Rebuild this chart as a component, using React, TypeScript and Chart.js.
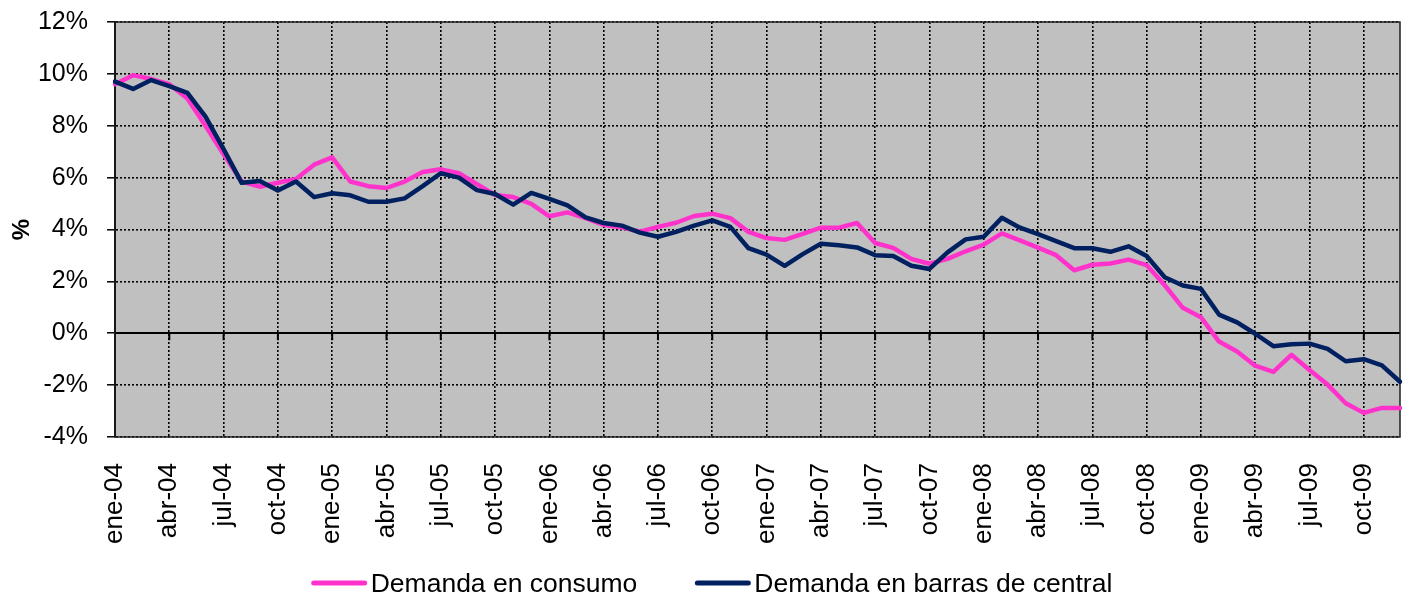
import React, { useEffect, useRef } from 'react';
import { Chart, registerables } from 'chart.js';

Chart.register(...registerables);

const MONTHS = ['ene', 'feb', 'mar', 'abr', 'may', 'jun', 'jul', 'ago', 'sep', 'oct', 'nov', 'dic'];
const YEARS = ['04', '05', '06', '07', '08', '09'];
const CATEGORIES = YEARS.flatMap((y) => MONTHS.map((m) => `${m}-${y}`));

const SERIES_NAMES = ['Demanda en consumo', 'Demanda en barras de central'];
const SERIES_COLORS = ['#FF33CC', '#002060'];

const CONSUMO = [
  9.6, 9.95, 9.8, 9.6, 9.05, 8.0, 6.9, 5.85, 5.65, 5.8,
  5.95, 6.5, 6.78, 5.85, 5.67, 5.6, 5.85, 6.22, 6.32, 6.17,
  5.75, 5.33, 5.25, 4.99, 4.51, 4.66, 4.44, 4.18, 4.08, 3.92,
  4.1, 4.26, 4.52, 4.61, 4.44, 3.91, 3.67, 3.6, 3.83, 4.07,
  4.07, 4.25, 3.48, 3.29, 2.87, 2.68, 2.87, 3.16, 3.42, 3.85,
  3.58, 3.3, 3.01, 2.43, 2.64, 2.69, 2.84, 2.63, 1.85, 0.98,
  0.62, -0.32, -0.7, -1.25, -1.49, -0.83, -1.42, -1.98, -2.7, -3.07,
  -2.88, -2.88,
];

const CENTRAL = [
  9.7, 9.42, 9.76, 9.53, 9.27, 8.35, 7.1, 5.8, 5.87, 5.5,
  5.85, 5.25, 5.4, 5.32, 5.07, 5.07, 5.2, 5.67, 6.17, 6.0,
  5.52, 5.37, 4.96, 5.41, 5.18, 4.93, 4.47, 4.25, 4.15, 3.88,
  3.72, 3.91, 4.15, 4.35, 4.1, 3.28, 3.03, 2.6, 3.05, 3.45,
  3.39, 3.31, 3.01, 2.98, 2.6, 2.48, 3.12, 3.62, 3.72, 4.45,
  4.07, 3.82, 3.55, 3.28, 3.28, 3.14, 3.35, 2.98, 2.16, 1.84,
  1.71, 0.72, 0.42, -0.02, -0.5, -0.42, -0.4, -0.6, -1.08, -1.0,
  -1.24, -1.87,
];

const Y_MIN = -4;
const Y_MAX = 12;
const Y_STEP = 2;
const LABEL_EVERY = 3;

const FONT_FAMILY = '"Liberation Sans", Arial, sans-serif';

const zeroPadding = (s: any) => {
  s.paddingTop = 0;
  s.paddingBottom = 0;
  s.paddingLeft = 0;
  s.paddingRight = 0;
};

const decorPlugin = {
  id: 'decor',
  beforeDraw(chart: any) {
    const { ctx, chartArea: a } = chart;
    ctx.save();
    ctx.fillStyle = '#C0C0C0';
    ctx.fillRect(a.left, a.top, a.right - a.left, a.bottom - a.top);
    ctx.restore();
  },
  beforeDatasetsDraw(chart: any) {
    const { ctx, chartArea: a, scales } = chart;
    const y0 = scales.y.getPixelForValue(0);
    ctx.save();
    ctx.setLineDash([]);
    ctx.strokeStyle = '#000';
    ctx.lineWidth = 1.5;
    ctx.beginPath();
    ctx.moveTo(a.left, y0);
    ctx.lineTo(a.right, y0);
    ctx.stroke();
    ctx.lineWidth = 2;
    ctx.beginPath();
    for (let i = 0; i < CATEGORIES.length; i += LABEL_EVERY) {
      const x = scales.x.getPixelForValue(i);
      ctx.moveTo(x, y0);
      ctx.lineTo(x, y0 + 7);
    }
    ctx.stroke();
    ctx.lineWidth = 1.5;
    ctx.strokeStyle = '#202020';
    ctx.strokeRect(a.left, a.top, a.right - a.left, a.bottom - a.top);
    ctx.restore();
  },
  afterDraw(chart: any) {
    const { ctx } = chart;
    ctx.save();
    ctx.font = `26.5px ${FONT_FAMILY}`;
    const items = chart.data.datasets
      .slice()
      .sort((p: any, q: any) => p.legendIndex - q.legendIndex)
      .map((d: any) => ({ label: d.label, color: d.borderColor, w: ctx.measureText(d.label).width }));
    const lineLen = 55;
    const gap = 4;
    const itemGap = 58;
    let total = 0;
    items.forEach((it: any, i: number) => {
      total += lineLen + gap + it.w + (i > 0 ? itemGap : 0);
    });
    const center = 712;
    let x = center - total / 2;
    const yLine = 583;
    const yText = 592;
    items.forEach((it: any) => {
      ctx.strokeStyle = it.color;
      ctx.lineWidth = 5;
      ctx.lineCap = 'round';
      ctx.beginPath();
      ctx.moveTo(x + 2, yLine);
      ctx.lineTo(x + lineLen - 2, yLine);
      ctx.stroke();
      ctx.fillStyle = '#000';
      ctx.textBaseline = 'alphabetic';
      ctx.textAlign = 'left';
      ctx.fillText(it.label, x + lineLen + gap, yText);
      x += lineLen + gap + it.w + itemGap;
    });
    ctx.restore();
  },
};

export default function App() {
  const canvasRef = useRef<HTMLCanvasElement | null>(null);

  useEffect(() => {
    const canvas = canvasRef.current;
    if (!canvas) return;
    const chart = new Chart(canvas, {
      type: 'line',
      data: {
        labels: CATEGORIES,
        datasets: [
          {
            label: SERIES_NAMES[0],
            data: CONSUMO,
            borderColor: SERIES_COLORS[0],
            backgroundColor: SERIES_COLORS[0],
            borderWidth: 4.5,
            pointRadius: 0,
            tension: 0,
            borderJoinStyle: 'round',
            borderCapStyle: 'round',
            order: 1,
            legendIndex: 0,
          } as any,
          {
            label: SERIES_NAMES[1],
            data: CENTRAL,
            borderColor: SERIES_COLORS[1],
            backgroundColor: SERIES_COLORS[1],
            borderWidth: 4.5,
            pointRadius: 0,
            tension: 0,
            borderJoinStyle: 'round',
            borderCapStyle: 'round',
            order: 0,
            legendIndex: 1,
          } as any,
        ],
      },
      options: {
        responsive: false,
        animation: false,
        layout: { padding: { top: 22, right: 7, bottom: 50, left: 0 } },
        plugins: {
          legend: { display: false },
          tooltip: { enabled: false },
        },
        scales: {
          x: {
            type: 'category',
            offset: false,
            grid: {
              color: (c: any) => (c.index % LABEL_EVERY === 0 ? '#000' : 'rgba(0,0,0,0)'),
              lineWidth: 1.6,
              drawTicks: false,
            },
            border: { display: false, dash: [2, 2] },
            ticks: {
              autoSkip: false,
              minRotation: 90,
              maxRotation: 90,
              padding: 26,
              color: '#000',
              font: { family: FONT_FAMILY, size: 26 },
              callback: (_v: any, i: number) => (i % LABEL_EVERY === 0 ? CATEGORIES[i] : ''),
            },
            afterFit: (s: any) => {
              s.height = 109;
              zeroPadding(s);
            },
          },
          y: {
            min: Y_MIN,
            max: Y_MAX,
            grid: {
              color: '#000',
              lineWidth: 1.6,
              drawTicks: true,
              tickLength: 8,
              tickColor: '#000',
              tickBorderDash: [],
              tickWidth: 1.5,
            } as any,
            border: {
              display: true,
              color: '#000',
              width: 2,
              dash: (c: any) => (c.tick && c.tick.value === 0 ? [] : [2, 2]),
            } as any,
            ticks: {
              stepSize: Y_STEP,
              padding: 19,
              color: '#000',
              font: { family: FONT_FAMILY, size: 25 },
              callback: (v: any) => `${v}%`,
            },
            title: {
              display: true,
              text: '%',
              color: '#000',
              font: { family: FONT_FAMILY, size: 24, weight: 'bold' },
              padding: { top: 8, bottom: 0 },
            },
            afterFit: (s: any) => {
              s.width = 115;
              zeroPadding(s);
            },
          },
        },
      },
      plugins: [decorPlugin],
    });
    return () => chart.destroy();
  }, []);

  return (
    <div style={{ position: 'absolute', left: 0, top: 0, width: 1407, height: 596 }}>
      <canvas ref={canvasRef} width={1407} height={596} style={{ display: 'block' }} />
    </div>
  );
}
